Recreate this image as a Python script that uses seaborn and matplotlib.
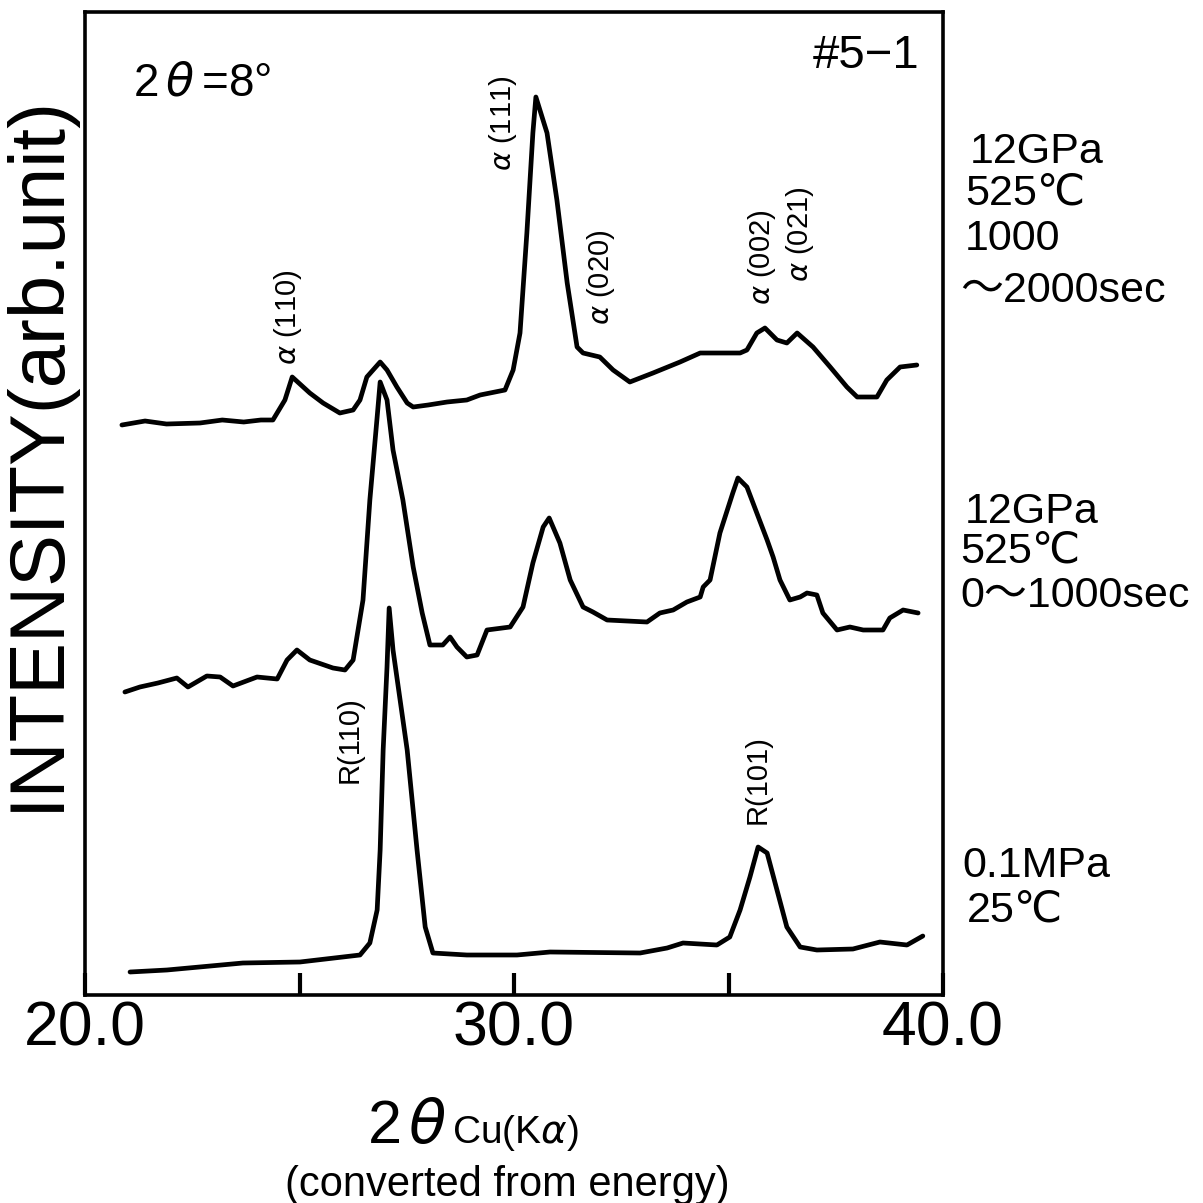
import numpy as np
import pandas as pd
import matplotlib
matplotlib.use("Agg")
import matplotlib.pyplot as plt
import seaborn as sns

# ---------------- data (2theta in degrees, intensity in arb. units incl. offsets) ----------------
top_x = [20.86, 21.40, 21.90, 22.68, 23.20, 23.70, 24.10, 24.38, 24.66, 24.83, 25.24, 25.55,
         25.94, 26.25, 26.41, 26.57, 26.88, 27.04, 27.27, 27.51, 27.65, 28.00, 28.44, 28.90,
         29.21, 29.79, 29.98, 30.14, 30.30, 30.44, 30.51, 30.77, 31.00, 31.24, 31.47, 31.61,
         32.00, 32.31, 32.70, 33.24, 33.87, 34.34, 35.27, 35.43, 35.66, 35.85, 36.13, 36.36,
         36.60, 36.97, 37.37, 37.76, 38.00, 38.46, 38.69, 39.00, 39.39]
top_y = [570, 574, 571, 572, 575, 573, 575, 575, 595, 618, 602, 592,
         582, 585, 595, 618, 633, 625, 608, 592, 588, 590, 593, 595,
         600, 605, 625, 662, 762, 862, 898, 862, 795, 712, 648, 642,
         638, 625, 613, 622, 633, 642, 642, 645, 662, 667, 655, 652,
         662, 648, 628, 608, 598, 598, 615, 628, 630]

mid_x = [20.93, 21.28, 21.70, 22.14, 22.40, 22.84, 23.15, 23.45, 24.01, 24.48, 24.71, 24.94,
         25.24, 25.78, 26.06, 26.25, 26.48, 26.64, 26.81, 26.88, 27.04, 27.18, 27.41, 27.65,
         27.86, 28.04, 28.34, 28.51, 28.67, 28.90, 29.14, 29.37, 29.91, 30.21, 30.44, 30.68,
         30.82, 31.07, 31.31, 31.61, 31.84, 32.17, 33.10, 33.40, 33.71, 34.03, 34.34, 34.41,
         34.57, 34.80, 35.10, 35.22, 35.43, 35.66, 35.90, 36.04, 36.20, 36.43, 36.67, 36.83,
         37.06, 37.20, 37.53, 37.83, 38.14, 38.60, 38.76, 39.07, 39.42]
mid_y = [303, 308, 312, 317, 308, 319, 318, 309, 318, 316, 335, 345,
         335, 327, 325, 335, 395, 495, 578, 613, 595, 545, 495, 428,
         382, 350, 350, 358, 348, 338, 340, 365, 368, 388, 432, 468,
         477, 452, 415, 388, 383, 375, 373, 382, 385, 393, 398, 408,
         415, 462, 502, 517, 508, 482, 455, 438, 415, 395, 398, 402,
         400, 382, 365, 368, 365, 365, 377, 385, 382]

bot_x = [21.05, 21.91, 23.68, 25.01, 26.41, 26.64, 26.81, 26.88, 26.95, 27.04, 27.09, 27.18,
         27.51, 27.74, 27.93, 28.11, 28.90, 30.07, 30.84, 32.94, 33.57, 33.94, 34.73, 35.03,
         35.27, 35.50, 35.69, 35.90, 36.13, 36.36, 36.67, 37.06, 37.90, 38.53, 39.16, 39.53]
bot_y = [23, 25, 32, 33, 40, 52, 85, 145, 245, 328, 387, 345,
         245, 145, 68, 42, 40, 40, 43, 42, 47, 52, 50, 58,
         85, 118, 148, 142, 105, 68, 48, 45, 46, 53, 50, 59]

conditions = ["12GPa 525C 1000-2000sec", "12GPa 525C 0-1000sec", "0.1MPa 25C"]

xticks = [20, 25, 30, 35, 40]
xtick_labels = ["20.0", "", "30.0", "", "40.0"]

peak_labels = ["$\\alpha$ (111)", "$\\alpha$ (110)", "$\\alpha$ (020)", "$\\alpha$ (002)",
               "$\\alpha$ (021)", "R(110)", "R(101)"]
peak_label_x = [29.74, 24.73, 32.03, 35.78, 36.67, 26.18, 35.69]
peak_label_y = [872, 678, 718, 738, 761, 255, 215]

# ---------------- build frame ----------------
df = pd.concat([
    pd.DataFrame({"two_theta": top_x, "intensity": top_y, "condition": conditions[0]}),
    pd.DataFrame({"two_theta": mid_x, "intensity": mid_y, "condition": conditions[1]}),
    pd.DataFrame({"two_theta": bot_x, "intensity": bot_y, "condition": conditions[2]}),
], ignore_index=True)

sns.set_theme(style="white")
plt.rcParams["font.family"] = ["Liberation Sans", "DejaVu Sans", "Noto Sans CJK JP"]
plt.rcParams["mathtext.fontset"] = "dejavusans"

W = 1203.0
fig = plt.figure(figsize=(12.03, 12.03), dpi=100)
ax = fig.add_axes([85 / W, 1 - 995 / W, 858 / W, 983 / W])

sns.lineplot(data=df, x="two_theta", y="intensity", hue="condition",
             palette=["black"] * 3, estimator=None, sort=False,
             linewidth=3.4, legend=False, ax=ax)

ax.set_xlim(20, 40)
ax.set_ylim(0, 983)
ax.set_yticks([])
ax.set_xticks(xticks)
ax.set_xticklabels(xtick_labels)
ax.tick_params(axis="x", direction="in", length=16, width=3, pad=3,
               labelsize=45, bottom=True, colors="black")
for s in ax.spines.values():
    s.set_linewidth(2.6)
    s.set_color("black")
ax.set_xlabel("")
ax.set_ylabel("INTENSITY(arb.unit)", fontsize=56, va="center", color="black")
ax.yaxis.set_label_coords(-0.056, (995 - 452) / 983)

for t, x, y in zip(peak_labels, peak_label_x, peak_label_y):
    ax.text(x, y, t, rotation=90, ha="center", va="center", fontsize=21, color="black")

def ftext(px, py, s, **kw):
    fig.text(px / W, 1 - py / W, s, color="black", **kw)

ftext(133, 95, "2$\\,\\theta\\,$=8°", fontsize=33, va="baseline")
ftext(813, 68, "#5\u22121", fontsize=34, va="baseline")

ftext(970, 163, "12GPa", fontsize=31, va="baseline")
ftext(965, 205, "525\u2103", fontsize=31, va="baseline")
ftext(965, 250, "1000", fontsize=31, va="baseline")
ftext(960, 302, "\uff5e2000sec", fontsize=31, va="baseline")

ftext(965, 523, "12GPa", fontsize=31, va="baseline")
ftext(960, 563, "525\u2103", fontsize=31, va="baseline")
ftext(960, 607, "0\uff5e1000sec", fontsize=31, va="baseline")

ftext(962, 877, "0.1MPa", fontsize=31, va="baseline")
ftext(967, 922, "25\u2103", fontsize=31, va="baseline")

ftext(368, 1143, "2", fontsize=44, va="baseline")
ftext(408, 1143, "$\\theta$", fontsize=44, va="baseline")
ftext(452, 1143, "Cu(K$\\alpha$)", fontsize=28, va="baseline")
ftext(507, 1196, "(converted from energy)", fontsize=30, va="baseline", ha="center")

fig.savefig("out.png", dpi=100, facecolor="white")
